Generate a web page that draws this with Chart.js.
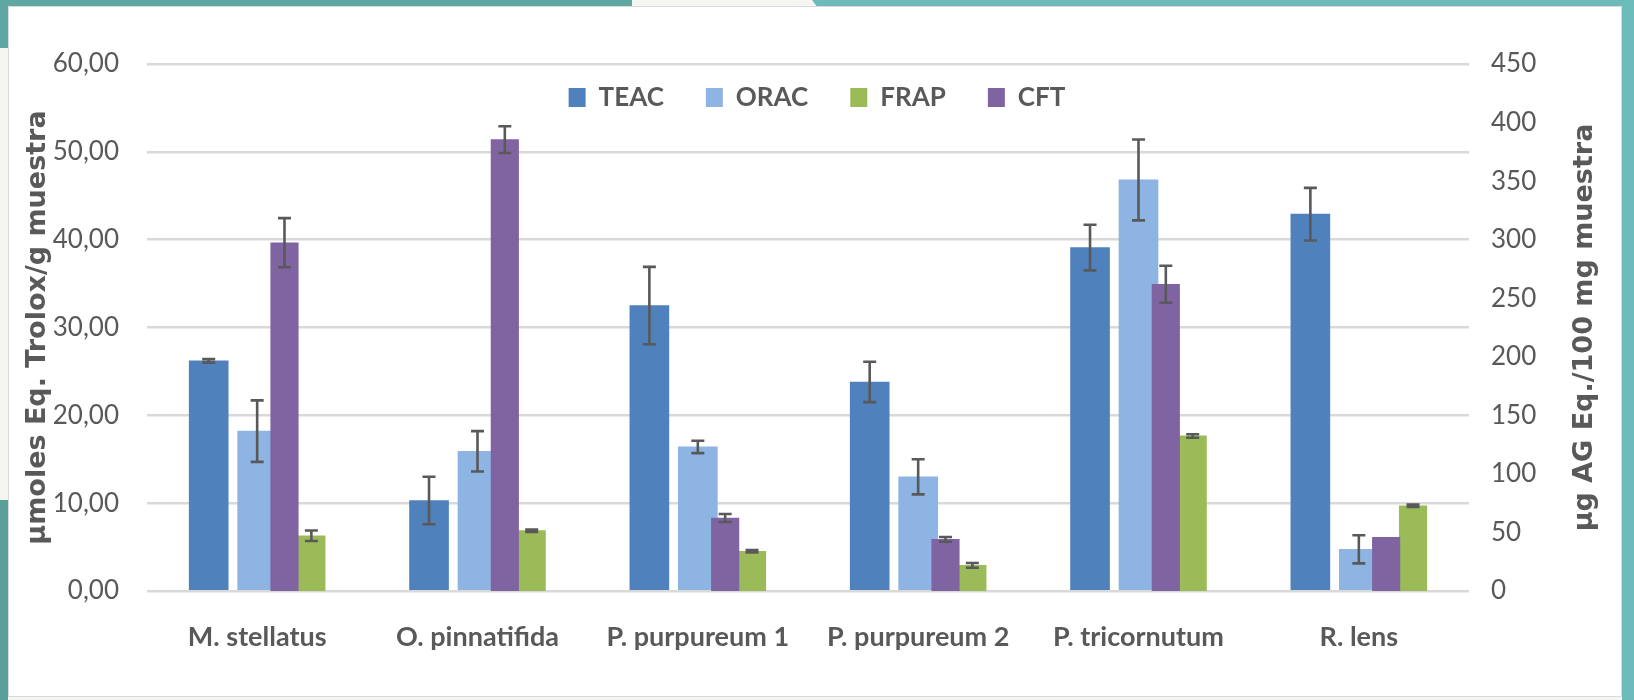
<!DOCTYPE html>
<html lang="es">
<head>
  <meta charset="UTF-8" />
  <title>Capacidad antioxidante</title>
  <script src="https://cdn.jsdelivr.net/npm/chart.js"></script>
  <style>
    body {
      margin: 0;
      width: 1634px;
      height: 700px;
      position: relative;
      overflow: hidden;
      background: #f5f6f1;
    }
    .band { position: absolute; }
    .top-left { left: 0; top: 0; width: 632px; height: 6px; background: #5fa7a2; }
    .top-right { left: 812px; top: 0; right: 0; height: 8px; background: #6cbaba;
                 clip-path: polygon(0 0, 100% 0, 100% 100%, 6px 100%); }
    .left-top { left: 0; top: 0; width: 8px; height: 48px; background: #5fa7a2; }
    .left-bottom { left: 0; top: 500px; width: 8px; height: 200px; background: #5a9f99; }
    .right { right: 0; top: 0; width: 12px; height: 700px; background: #6cbcbc; }
    .box {
      position: absolute;
      left: 8px; top: 6px;
      width: 1612px; height: 689px;
      background: #fff;
      border: 1px solid #d9d9d9;
    }
    .chart-wrap {
      position: absolute;
      left: 0; top: 0;
      width: 1634px; height: 700px;
    }
  </style>
</head>
<body>
  <div class="band top-left"></div>
  <div class="band top-right"></div>
  <div class="band left-top"></div>
  <div class="band left-bottom"></div>
  <div class="band right"></div>
  <div class="box"></div>

  <div class="chart-wrap">
    <canvas id="barChart"></canvas>
  </div>

  <script>
    // data
    const categories = ['M. stellatus', 'O. pinnatifida', 'P. purpureum 1', 'P. purpureum 2', 'P. tricornutum', 'R. lens'];

    // left axis: µmoles Eq. Trolox/g muestra
    const teac    = [26.2, 10.3, 32.5, 23.8, 39.1, 42.9];
    const teacErr = [0.2, 2.7, 4.4, 2.3, 2.6, 3.0];
    const orac    = [18.2, 15.9, 16.4, 13.0, 46.8, 4.75];
    const oracErr = [3.5, 2.3, 0.7, 2.0, 4.6, 1.6];

    // right axis: µg AG Eq./100 mg muestra
    const frap    = [47.2, 51.5, 33.9, 21.9, 132.4, 72.8];
    const frapErr = [4.5, 1.0, 1.0, 2.0, 1.5, 1.0];
    const cft     = [297.4, 385.4, 62.3, 44.1, 261.9, 45.8];
    const cftErr  = [21, 11.4, 3.4, 2.0, 15.8, 0];

    const leftTicks = [0, 10, 20, 30, 40, 50, 60];
    const rightTicks = [0, 50, 100, 150, 200, 250, 300, 350, 400, 450];
    const legendOrder = ['TEAC', 'ORAC', 'FRAP', 'CFT'];

    const grey = '#595959';
    const sans = "Lato, 'Open Sans', sans-serif";
    const wide = "'DejaVu Sans', sans-serif";

    const LEGEND_TOP = 42.5;

    // shift of each series' bars inside a category (fraction of the category)
    const shiftTeac = -0.22, shiftOrac = 0, shiftCft = 0.124, shiftFrap = 0.246;

    // legend sits inside the plot, so it takes no layout space
    const legendInside = {
      id: 'legendInside',
      beforeLayout(chart) {
        const lg = chart.legend;
        if (lg && !lg._inside) {
          const fit = lg.fit;
          lg.fit = function () {
            fit.call(this);
            this._fullH = this.height;
            this.height = 0;
          };
          lg._inside = true;
        }
      },
      afterLayout(chart) {
        const lg = chart.legend;
        if (!lg) return;
        lg.top = LEGEND_TOP;
        lg.height = lg._fullH;
        lg.bottom = lg.top + lg._fullH;
      }
    };

    const errorBars = {
      id: 'errorBars',
      afterDatasetsDraw(chart) {
        const ctx = chart.ctx;
        ctx.save();
        ctx.strokeStyle = grey;
        ctx.lineWidth = 2.6;
        chart.data.datasets.forEach((ds, i) => {
          if (!ds.errorBars) return;
          const meta = chart.getDatasetMeta(i);
          const scale = chart.scales[ds.yAxisID];
          meta.data.forEach((bar, j) => {
            const v = ds.data[j].y;
            const e = ds.errorBars[j];
            if (v == null || !e) return;
            const yTop = scale.getPixelForValue(v + e);
            const yBot = scale.getPixelForValue(v - e);
            const x = bar.x;
            ctx.beginPath();
            ctx.moveTo(x, yTop); ctx.lineTo(x, yBot);
            ctx.moveTo(x - 6.5, yTop); ctx.lineTo(x + 6.5, yTop);
            ctx.moveTo(x - 6.5, yBot); ctx.lineTo(x + 6.5, yBot);
            ctx.stroke();
          });
        });
        ctx.restore();
      }
    };

    // right axis title reads bottom-to-top like the left one
    const rightTitle = {
      id: 'rightTitle',
      afterDraw(chart) {
        const ctx = chart.ctx;
        const area = chart.chartArea;
        ctx.save();
        ctx.translate(1585, (area.top + area.bottom) / 2);
        ctx.rotate(-Math.PI / 2);
        ctx.font = 'bold 27px ' + wide;
        ctx.fillStyle = grey;
        ctx.textAlign = 'center';
        ctx.textBaseline = 'middle';
        ctx.fillText('µg AG Eq./100 mg muestra', 0, 0);
        ctx.restore();
      }
    };

    const points = (arr) => arr.map((v, i) => ({ x: i, y: v }));

    // hidden linear axis per series, shifted so bars sit side by side like Excel
    const posAxis = (shift) => ({
      type: 'linear',
      display: false,
      offset: false,
      bounds: 'data',
      min: -0.5 - shift,
      max: categories.length - 0.5 - shift,
      afterBuildTicks: (scale) => { scale.ticks = categories.map((c, i) => ({ value: i })); },
      grid: { display: false, offset: false }
    });

    new Chart(document.getElementById('barChart'), {
      type: 'bar',
      data: {
        labels: categories,
        datasets: [
          { label: 'TEAC', data: points(teac), errorBars: teacErr, backgroundColor: '#4f81bd',
            xAxisID: 'xT', yAxisID: 'y', order: 2, maxBarThickness: 39 },
          { label: 'ORAC', data: points(orac), errorBars: oracErr, backgroundColor: '#8eb4e3',
            xAxisID: 'xO', yAxisID: 'y', order: 2, maxBarThickness: 39 },
          { label: 'CFT', data: points(cft), errorBars: cftErr, backgroundColor: '#8064a2',
            xAxisID: 'xC', yAxisID: 'y1', order: 1, maxBarThickness: 27.5 },
          { label: 'FRAP', data: points(frap), errorBars: frapErr, backgroundColor: '#9bbb59',
            xAxisID: 'xF', yAxisID: 'y1', order: 1, maxBarThickness: 27.5 }
        ]
      },
      options: {
        responsive: true,
        maintainAspectRatio: false,
        animation: false,
        datasets: { bar: { grouped: false, categoryPercentage: 1, barPercentage: 1 } },
        layout: { padding: { top: 64, left: 0, right: 0, bottom: 0 } },
        plugins: {
          tooltip: { enabled: false },
          legend: {
            position: 'top',
            labels: {
              boxWidth: 17,
              boxHeight: 19,
              padding: 42,
              color: grey,
              font: { family: sans, size: 26, weight: 'bold' },
              sort: (a, b) => legendOrder.indexOf(a.text) - legendOrder.indexOf(b.text)
            }
          }
        },
        scales: {
          x: {
            type: 'category',
            position: 'bottom',
            offset: true,
            grid: { display: false },
            border: { display: false },
            ticks: {
              color: grey, padding: 22, maxRotation: 0, minRotation: 0, autoSkip: false,
              font: { family: sans, size: 27, weight: 'bold' }
            },
            afterFit: (scale) => { scale.height = 109; }
          },
          xT: posAxis(shiftTeac),
          xO: posAxis(shiftOrac),
          xC: posAxis(shiftCft),
          xF: posAxis(shiftFrap),
          y: {
            position: 'left',
            min: leftTicks[0],
            max: leftTicks[leftTicks.length - 1],
            afterBuildTicks: (scale) => { scale.ticks = leftTicks.map(v => ({ value: v })); },
            grid: { color: '#d9d9d9', lineWidth: 2.5, drawTicks: false },
            border: { display: false },
            ticks: {
              color: grey,
              padding: 28,
              font: { family: sans, size: 26 },
              callback: (v) => v.toFixed(2).replace('.', ',')
            },
            title: {
              display: true,
              text: 'µmoles Eq. Trolox/g muestra',
              color: grey,
              font: { family: wide, size: 27, weight: 'bold' },
              padding: { top: 22, bottom: 0 }
            },
            afterFit: (scale) => { scale.width = 147; }
          },
          y1: {
            position: 'right',
            min: rightTicks[0],
            max: rightTicks[rightTicks.length - 1],
            afterBuildTicks: (scale) => { scale.ticks = rightTicks.map(v => ({ value: v })); },
            grid: { display: false, drawTicks: false },
            border: { display: false },
            ticks: { color: grey, padding: 22, font: { family: sans, size: 26 } },
            afterFit: (scale) => { scale.width = 165; }
          }
        }
      },
      plugins: [legendInside, errorBars, rightTitle]
    });
  </script>
</body>
</html>
